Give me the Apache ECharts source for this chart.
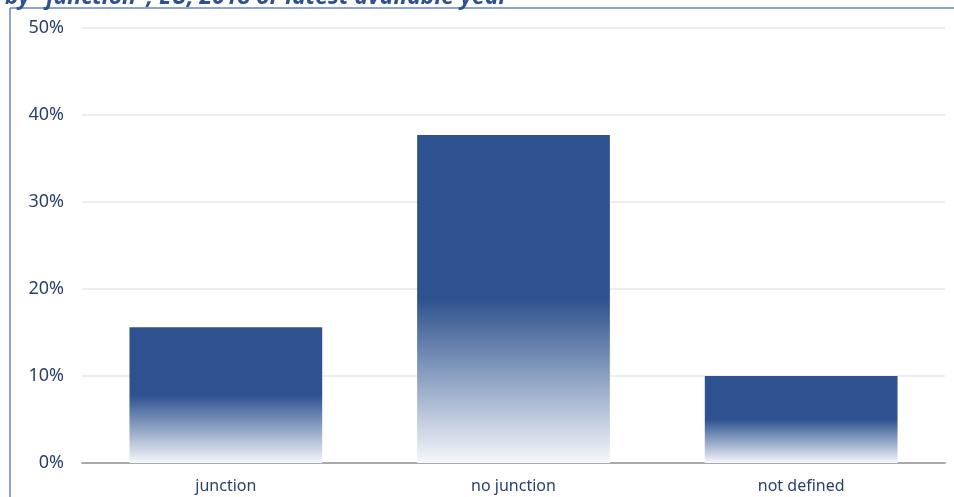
<!DOCTYPE html>
<html><head><meta charset="utf-8">
<script src="https://cdn.jsdelivr.net/npm/echarts@6/dist/echarts.min.js"></script>
<style>html,body{margin:0;padding:0;background:#fff}#c{width:954px;height:497px}</style>
</head><body><div id="c"></div>
<script>
const categories = ["junction", "no junction", "not defined"];
const values = [15.6, 37.7, 10.0];
const yTicks = [0, 10, 20, 30, 40, 50];
const titleText = 'by "junction", EU, 2018 or latest available year';

const chart = echarts.init(document.getElementById('c'));
const grad = new echarts.graphic.LinearGradient(0, 0, 0, 1, [
  {offset: 0, color: '#2d528f'},
  {offset: 0.5, color: '#2d528f'},
  {offset: 1, color: '#f5f7fb'}
]);
chart.setOption({
  animation: false,
  title: {text: titleText, left: 0, top: -19,
    textStyle: {fontFamily: 'Noto Sans', fontSize: 23, fontWeight: 'bold', fontStyle: 'italic', color: '#2d528f'}},
  graphic: [
    {type: 'line', shape: {x1: 10, y1: 8, x2: 10, y2: 497}, style: {stroke: '#6888bf', lineWidth: 1.5}},
    {type: 'line', shape: {x1: 10, y1: 8, x2: 954, y2: 8}, style: {stroke: '#6888bf', lineWidth: 1.5}}
  ],
  grid: {left: 82, right: 9, top: 28, bottom: 34},
  xAxis: {type: 'category', data: categories,
    axisLine: {lineStyle: {color: '#aaaaaa', width: 2}}, axisTick: {show: false},
    axisLabel: {color: '#2b3f6c', fontFamily: 'Noto Sans', fontSize: 16, margin: 15}},
  yAxis: {type: 'value', min: yTicks[0], max: yTicks[yTicks.length-1], interval: 10,
    axisLabel: {formatter: '{value}%', color: '#2b3f6c', fontFamily: 'Noto Sans', fontSize: 18, margin: 18},
    splitLine: {lineStyle: {color: '#e8e8e8', width: 1.5}},
    axisLine: {show: false}, axisTick: {show: false}},
  series: [{type: 'bar', data: values, barCategoryGap: '33%',
    itemStyle: {color: grad}}]
});
</script></body></html>
